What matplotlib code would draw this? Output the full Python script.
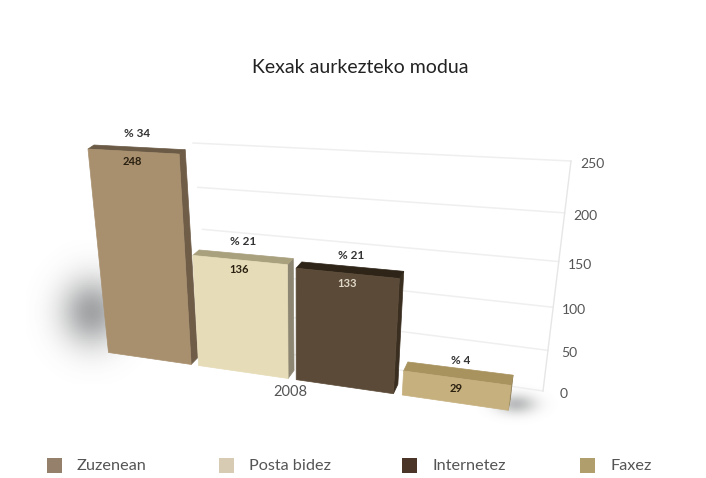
"""Kexak aurkezteko modua - fake 3D bars drawn on perspective planes."""
import matplotlib
matplotlib.use('Agg')
import matplotlib.pyplot as plt
import numpy as np
from matplotlib.colors import to_rgb
from matplotlib.transforms import Transform

plt.rcParams['font.family'] = ['Lato', 'DejaVu Sans']

title = 'Kexak aurkezteko modua'
categories = ['Zuzenean', 'Posta bidez', 'Internetez', 'Faxez']
values = [248, 136, 133, 29]
percents = ['% 34', '% 21', '% 21', '% 4']
year = '2008'
y_ticks = [0, 50, 100, 150, 200, 250]

front_colors = ['#a8906f', '#e6dcb8', '#5b4a37', '#c6b07e']
top_colors = ['#6b5a45', '#a9a07e', '#2e2418', '#a8935f']
side_colors = ['#6f5d48', '#8d8672', '#3a2e20', '#8f7f58']
legend_colors = ['#94806b', '#d8cbb3', '#4a3528', '#b09f6c']
value_text_colors = ['#2a2010', '#2a2010', '#e0d8c8', '#2a2010']


class Homography(Transform):
    input_dims = 2
    output_dims = 2

    def __init__(self, src, dst):
        super().__init__()
        A, b = [], []
        for (x, y), (u, v) in zip(src, dst):
            A.append([x, y, 1, 0, 0, 0, -u * x, -u * y])
            A.append([0, 0, 0, x, y, 1, -v * x, -v * y])
            b += [u, v]
        self.m = np.append(np.linalg.solve(np.array(A, float), np.array(b, float)), 1).reshape(3, 3)

    def transform_non_affine(self, values):
        pts = np.column_stack([values, np.ones(len(values))]) @ self.m.T
        return pts[:, :2] / pts[:, 2:]


def soft_shadow(ax, cx, cy, sx, sy, strength, color='#55585a'):
    # gaussian falloff, only decoration behind the bars
    xs = np.linspace(cx - 3 * sx, cx + 3 * sx, 80)
    ys = np.linspace(cy - 3 * sy, cy + 3 * sy, 80)
    gx, gy = np.meshgrid(xs, ys)
    img = np.zeros((80, 80, 4))
    img[..., :3] = to_rgb(color)
    img[..., 3] = strength * np.exp(-((gx - cx) / sx) ** 2 / 2 - ((gy - cy) / sy) ** 2 / 2)
    ax.imshow(img, extent=(xs[0], xs[-1], ys[-1], ys[0]), zorder=1, aspect='auto')


fig = plt.figure(figsize=(7.06, 4.78), dpi=100)
ax = fig.add_axes([0, 0, 1, 1])

soft_shadow(ax, 92, 312, 22, 24, 0.55)
soft_shadow(ax, 516, 404, 14, 7, 0.4)

ax.set_xlim(0, 706)
ax.set_ylim(478, 0)
ax.axis('off')

# planes: front of bars, back of bars, back wall (x 0..4 / 0..1, y in axis units)
corners = [(0, 0), (4, 0), (4, 250), (0, 250)]
front = Homography(corners, [(105, 352), (513, 411), (541, 172), (84, 147)])
back = Homography(corners, [(112, 346), (515, 400), (543, 166), (90, 143)])
wall = Homography([(0, 0), (1, 0), (1, 250), (0, 250)],
                  [(215, 343), (543, 391), (571, 161), (193, 143)])
to_front = front + ax.transData
to_wall = wall + ax.transData

# wall grid and axis
for t in y_ticks:
    ax.plot([0, 1], [t, t], transform=to_wall, color='#efefef', lw=1.1, zorder=2)
    px = wall.transform_non_affine(np.array([[1.0, t]]))[0]
    ax.text(px[0] + 21, px[1] + 3, str(t), ha='center', va='center',
            fontsize=10, color='#555555', zorder=6)
ax.plot([1, 1], [0, 250], transform=to_wall, color='#e6e6e6', lw=1, zorder=2)

# bars
bar_w = 0.92
for i, v in enumerate(values):
    l, r = i + (1 - bar_w) / 2, i + 1 - (1 - bar_w) / 2
    ff = front.transform_non_affine(np.array([[l, v], [r, v], [r, 0]]))
    bb = back.transform_non_affine(np.array([[l, v], [r, v], [r, 0]]))
    ax.fill([ff[0][0], ff[1][0], bb[1][0], bb[0][0]], [ff[0][1], ff[1][1], bb[1][1], bb[0][1]],
            color=top_colors[i], lw=0.5, zorder=4)
    ax.fill([ff[1][0], ff[2][0], bb[2][0], bb[1][0]], [ff[1][1], ff[2][1], bb[2][1], bb[1][1]],
            color=side_colors[i], lw=0.5, zorder=3)
    ax.fill([l, r, r, l], [0, 0, v, v], transform=to_front, color=front_colors[i], lw=0.5, zorder=5)

    top = front.transform_non_affine(np.array([[(l + r) / 2, v]]))[0]
    ax.text(top[0] + 4, top[1] - 18, percents[i], ha='center', va='center',
            fontsize=8.5, color='#333333', fontweight='bold', zorder=7)
    ax.text(top[0], top[1] + 10, str(v), ha='center', va='center',
            fontsize=8, color=value_text_colors[i], fontweight='bold', zorder=7)

ax.text(290, 392, year, ha='center', va='center', fontsize=10.5, color='#555555', zorder=6)
ax.text(360, 67, title, ha='center', va='center', fontsize=14, color='#222222')

# legend
legend_x = [47, 219, 402, 580]
for x, c, name in zip(legend_x, legend_colors, categories):
    ax.fill([x, x + 15, x + 15, x], [458, 458, 473, 473], color=c, lw=0)
    ax.text(x + 30, 466, name, ha='left', va='center', fontsize=11.7, color='#555555')

fig.savefig('out.png', dpi=100)
